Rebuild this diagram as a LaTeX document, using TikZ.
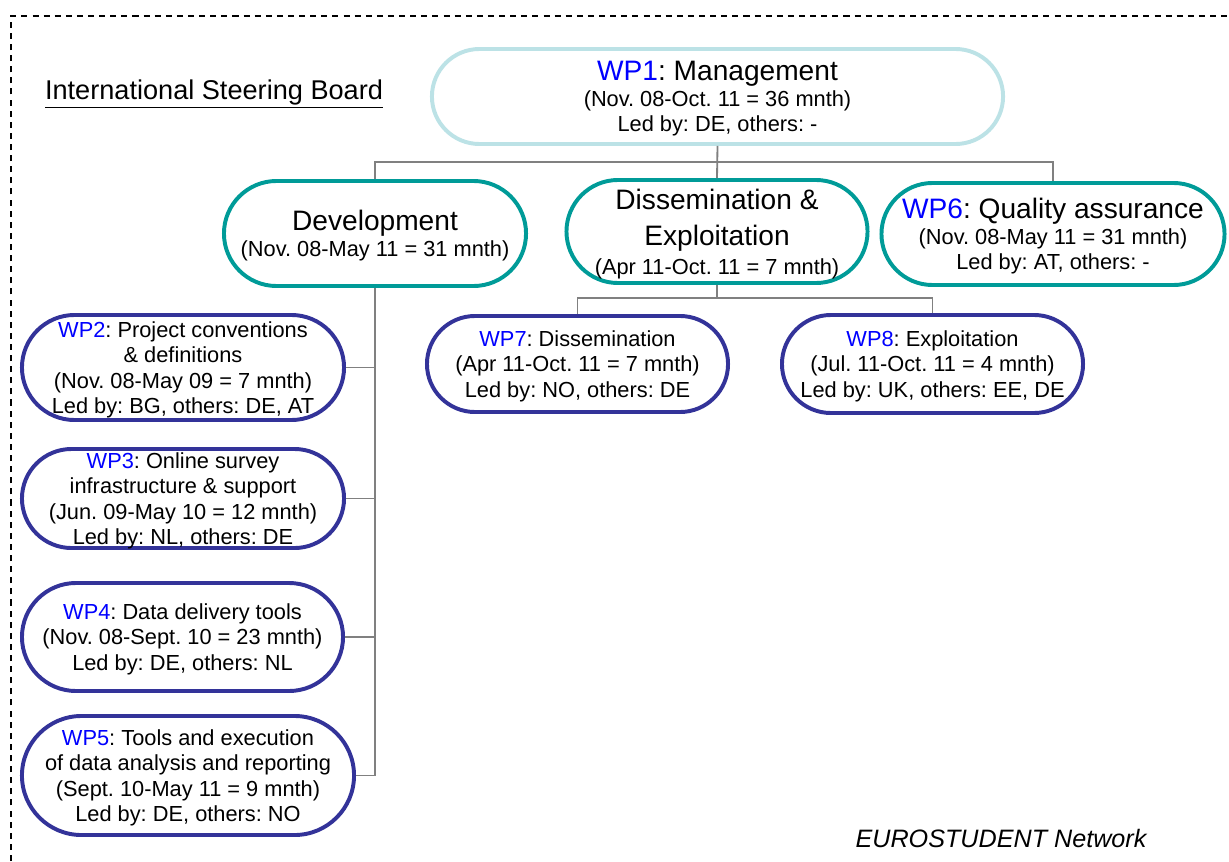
\documentclass[tikz,border=0pt]{standalone}
\usepackage{fontspec}
\setmainfont{Liberation Sans}
\definecolor{mgmtblue}{HTML}{BCE2E6}
\definecolor{areateal}{HTML}{009B98}
\definecolor{wpindigo}{HTML}{333399}
\definecolor{wpblue}{HTML}{0000FF}
\definecolor{linkgray}{HTML}{808080}
\newcommand{\wpno}[1]{\textcolor{wpblue}{WP#1}}
\newcommand{\bigfont}{\fontsize{20}{25.6}\selectfont}
\frenchspacing

\begin{document}
\begin{tikzpicture}[x=0.025cm,y=-0.025cm,
    pill/.style 2 args={rectangle, minimum width=#1, minimum height=#2, rounded corners=0.5*#2,
        line width=2.8pt, fill=white, align=center, inner sep=0pt, text depth=0pt,
        font=\fontsize{15.5}{18.1}\selectfont},
    mgmt/.style={draw=mgmtblue},
    area/.style={draw=areateal},
    wpbox/.style={draw=wpindigo},
    link/.style={draw=linkgray, line width=1.3pt}]
    \useasboundingbox (0,0) rectangle (1229,861);
    \draw[line width=0.8pt, dash pattern=on 4.3pt off 3.6pt] (11,861) -- (11,16) -- (1229,16);

    \node (isb) at (214,94) {\fontsize{19.3}{22}\selectfont\underline{International Steering Board}};
    \node (net) at (1001,838) {\fontsize{17.9}{20}\selectfont\itshape EUROSTUDENT Network};

    \node[pill={14.275cm}{2.375cm}, mgmt] (wp1) at (717.5,96.5)
        {{\bigfont\wpno{1}: Management}\\(Nov. 08-Oct. 11 = 36 mnth)\\Led by: DE, others: -};
    \node[pill={7.55cm}{2.625cm}, area] (dev) at (375,233.5)
        {{\bigfont Development}\\(Nov. 08-May 11 = 31 mnth)};
    \node[pill={7.525cm}{2.575cm}, area] (dne) at (717,231.5)
        {{\bigfont Dissemination \&}\\[7.8pt]{\bigfont Exploitation}\\[2pt](Apr 11-Oct. 11 = 7 mnth)};
    \node[pill={8.575cm}{2.55cm}, area] (wp6) at (1053,234)
        {{\bigfont\wpno{6}: Quality assurance}\\(Nov. 08-May 11 = 31 mnth)\\Led by: AT, others: -};

    \node[pill={8.05cm}{2.625cm}, wpbox] (wp2) at (183,367.5)
        {\wpno{2}: Project conventions\\\& definitions\\(Nov. 08-May 09 = 7 mnth)\\Led by: BG, others: DE, AT};
    \node[pill={8.05cm}{2.475cm}, wpbox] (wp3) at (183,498.5)
        {\wpno{3}: Online survey\\infrastructure \& support\\(Jun. 09-May 10 = 12 mnth)\\Led by: NL, others: DE};
    \node[pill={8.025cm}{2.7cm}, wpbox] (wp4) at (182.5,637)
        {\wpno{4}: Data delivery tools\\(Nov. 08-Sept. 10 = 23 mnth)\\Led by: DE, others: NL};
    \node[pill={8.3cm}{2.975cm}, wpbox] (wp5) at (188,775.5)
        {\wpno{5}: Tools and execution\\of data analysis and reporting\\(Sept. 10-May 11 = 9 mnth)\\Led by: DE, others: NO};

    \node[pill={7.525cm}{2.4cm}, wpbox] (wp7) at (577.5,364)
        {\wpno{7}: Dissemination\\(Apr 11-Oct. 11 = 7 mnth)\\Led by: NO, others: DE};
    \node[pill={7.525cm}{2.45cm}, wpbox] (wp8) at (932.5,364)
        {\wpno{8}: Exploitation\\(Jul. 11-Oct. 11 = 4 mnth)\\Led by: UK, others: EE, DE};

    \coordinate (bus1) at (717,162);
    \coordinate (bus2) at (717,298);
    \draw[link] (wp1.south) -- (dne.north);
    \draw[link] (dev.north) |- (bus1) -| (wp6.north);
    \draw[link] (dne.south) -- (bus2);
    \draw[link] (wp7.north) |- (bus2) -| (wp8.north);
    \draw[link] (dev.south) |- (wp5.east);
    \foreach \w in {wp2,wp3,wp4}
        \draw[link] (\w.east) -- (\w.east -| dev.south);
\end{tikzpicture}
\end{document}
